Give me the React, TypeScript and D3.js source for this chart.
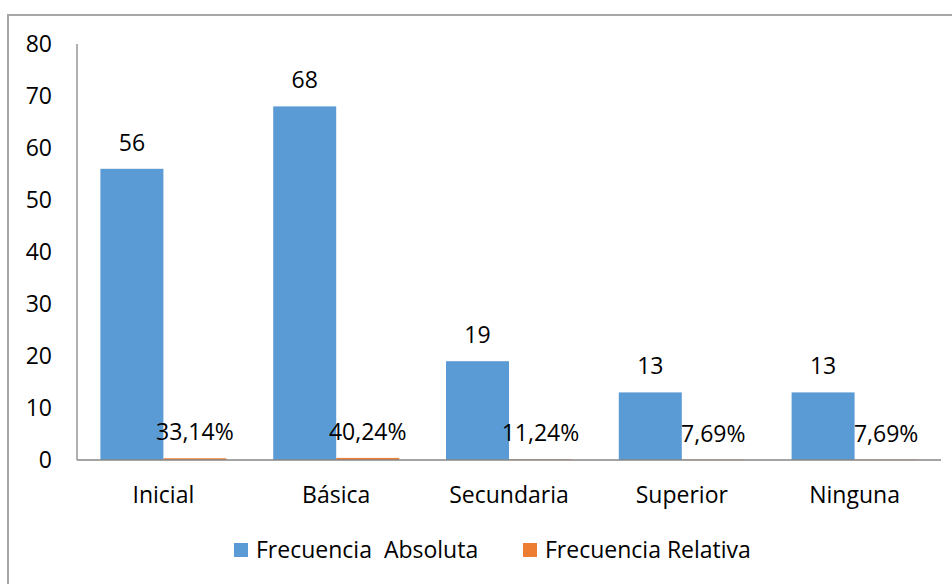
import React from "react";
import * as d3 from "d3";

const categories = ["Inicial", "Básica", "Secundaria", "Superior", "Ninguna"];
const absoluta = [56, 68, 19, 13, 13];
const relativa = [0.3314, 0.4024, 0.1124, 0.0769, 0.0769];
const relativaLabels = ["33,14%", "40,24%", "11,24%", "7,69%", "7,69%"];
const yTicks = [0, 10, 20, 30, 40, 50, 60, 70, 80];
const seriesNames = ["Frecuencia  Absoluta", "Frecuencia Relativa"];

const W = 952;
const H = 584;
const FONT = "'Open Sans', sans-serif";
const FS = 23;
const BLUE = "#5b9bd5";
const ORANGE = "#ed7d31";

export default function App() {
  const x0 = d3.scaleBand<string>().domain(categories).range([77, 941]).paddingInner(0).paddingOuter(0);
  const groupPad = 23.4;
  const x1 = d3
    .scaleBand<string>()
    .domain(["a", "r"])
    .range([groupPad, x0.bandwidth() - groupPad]);
  const y = d3.scaleLinear().domain([0, 80]).range([460, 44]);

  return (
    <svg
      width={W}
      height={H}
      style={{ position: "absolute", left: 0, top: 0, background: "#fff" }}
      fontFamily={FONT}
    >
      <rect x={0} y={0} width={W} height={H} fill="#fff" />
      {/* chart frame */}
      <rect x={8} y={15} width={W + 20} height={H + 20} fill="none" stroke="#a6a6a6" strokeWidth={2} />
      {/* y tick labels */}
      {yTicks.map((t) => (
        <text key={t} x={52} y={y(t)} dy="0.35em" textAnchor="end" fontSize={FS} fill="#000">
          {t}
        </text>
      ))}
      {/* bars */}
      {categories.map((c, i) => {
        const gx = x0(c)!;
        const ax = gx + x1("a")!;
        const rx = gx + x1("r")!;
        const bw = x1.bandwidth();
        return (
          <g key={c}>
            <rect x={ax} y={y(absoluta[i])} width={bw} height={y(0) - y(absoluta[i])} fill={BLUE} />
            <rect x={rx} y={y(relativa[i])} width={bw} height={y(0) - y(relativa[i])} fill={ORANGE} />
            <text x={ax + bw / 2} y={y(absoluta[i]) - 26} dy="0.35em" textAnchor="middle" fontSize={FS} fill="#000">
              {absoluta[i]}
            </text>
            <text x={rx + bw / 2} y={y(relativa[i]) - 26} dy="0.35em" textAnchor="middle" fontSize={FS} fill="#000">
              {relativaLabels[i]}
            </text>
            <text x={gx + x0.bandwidth() / 2} y={495} dy="0.35em" textAnchor="middle" fontSize={FS} fill="#000">
              {c}
            </text>
          </g>
        );
      })}
      {/* axes */}
      <line x1={77} x2={77} y1={44} y2={460} stroke="#868686" strokeWidth={1.3} />
      <line x1={77} x2={941} y1={460} y2={460} stroke="#868686" strokeWidth={1.3} />
      {/* legend */}
      <rect x={234} y={543} width={14} height={14} fill={BLUE} />
      <text x={256} y={550} dy="0.35em" fontSize={FS} fill="#000" style={{ whiteSpace: "pre" }}>
        {seriesNames[0]}
      </text>
      <rect x={523} y={543} width={14} height={14} fill={ORANGE} />
      <text x={545} y={550} dy="0.35em" fontSize={FS} fill="#000">
        {seriesNames[1]}
      </text>
    </svg>
  );
}
